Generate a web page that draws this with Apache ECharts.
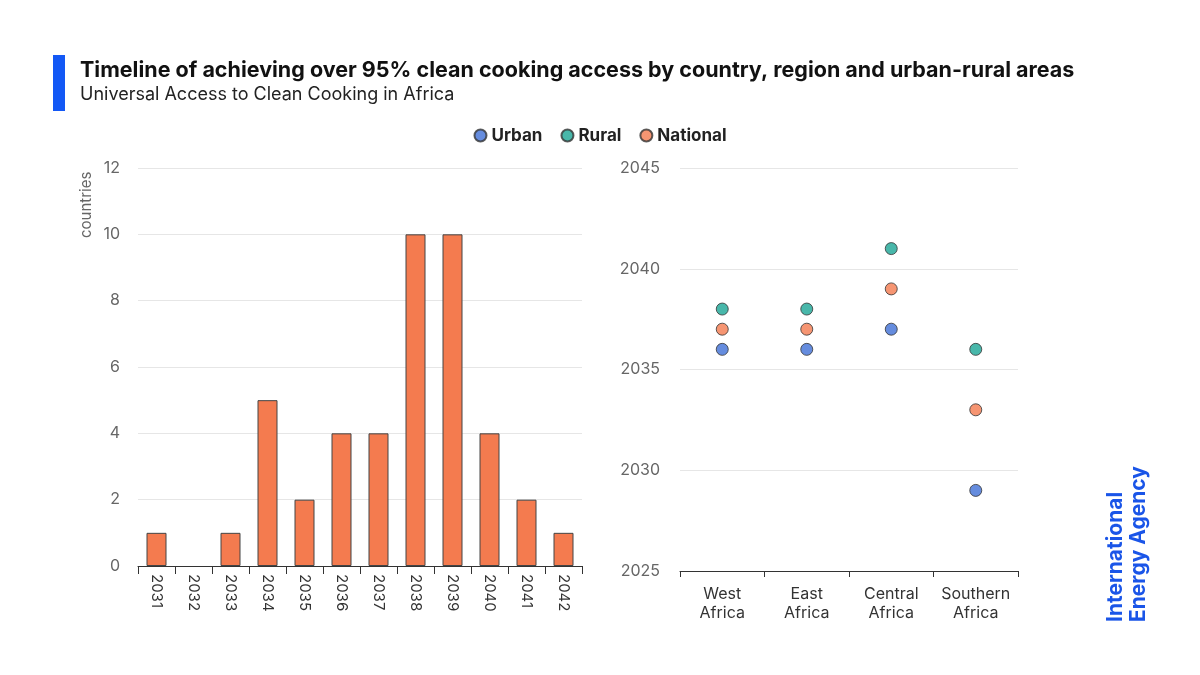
<!DOCTYPE html><html><head><meta charset="utf-8"><script src="https://cdn.jsdelivr.net/npm/echarts@6/dist/echarts.min.js"></script></head><body style="margin:0"><div id="c" style="width:1200px;height:675px"></div><script>
const years=['2031','2032','2033','2034','2035','2036','2037','2038','2039','2040','2041','2042'];
const counts=[1,0,1,5,2,4,4,10,10,4,2,1];
const regions=['West\nAfrica','East\nAfrica','Central\nAfrica','Southern\nAfrica'];
const urban=[2036,2036,2037,2029];
const rural=[2038,2038,2041,2036];
const national=[2037,2037,2039,2033];
const F='Inter, "Noto Sans", sans-serif';
const cU='#3f6fd6',cR='#1aa595',cN='#f47b4f';
const ch=echarts.init(document.getElementById('c'));
const sc=(n,d,c)=>({name:n,type:'scatter',xAxisIndex:1,yAxisIndex:1,data:d,symbolSize:12,itemStyle:{color:c,borderColor:'#333',borderWidth:1}});
ch.setOption({animation:false,textStyle:{fontFamily:F},
graphic:[{type:'rect',left:53,top:55,shape:{width:12,height:56},style:{fill:'#1358f5'}},
{type:'text',left:80,top:60,style:{text:'Timeline of achieving over 95% clean cooking access by country, region and urban-rural areas',font:'bold 21.5px '+F,fill:'#111'}},
{type:'text',left:80,top:86,style:{text:'Universal Access to Clean Cooking in Africa',font:'18px '+F,fill:'#222'}},
{type:'text',x:79,y:238,rotation:Math.PI/2,style:{text:'countries',font:'15px '+F,fill:'#666'}},
{type:'text',x:1104,y:622,rotation:Math.PI/2,style:{text:'International\nEnergy Agency',font:'bold 21px '+F,fill:'#1a55e8',lineHeight:23}}],
legend:{top:122,left:'center',itemWidth:12,itemHeight:12,itemGap:18,textStyle:{fontSize:17,fontWeight:'bold',color:'#222'},data:['Urban','Rural','National']},
grid:[{left:138,top:168,width:444,height:398},{left:680,top:168,width:338,height:403}],
xAxis:[{type:'category',data:years,gridIndex:0,axisLine:{lineStyle:{color:'#333'}},axisTick:{show:true,length:8,lineStyle:{color:'#333'}},axisLabel:{rotate:-90,fontSize:15,color:'#333',margin:8}},
{type:'category',data:regions,gridIndex:1,axisLine:{lineStyle:{color:'#333'}},axisTick:{show:true,length:6,lineStyle:{color:'#333'}},axisLabel:{interval:0,fontSize:16,color:'#333',lineHeight:19,margin:14}}],
yAxis:[{type:'value',gridIndex:0,min:0,max:12,interval:2,axisLabel:{fontSize:16,color:'#666',margin:18},splitLine:{lineStyle:{color:'#e6e6e6'}}},
{type:'value',gridIndex:1,min:2025,max:2045,interval:5,axisLabel:{fontSize:16,color:'#666',margin:20,formatter:v=>String(v)},splitLine:{lineStyle:{color:'#e6e6e6'}}}],
series:[{type:'bar',data:counts.map(v=>v===0?null:v),barWidth:20,itemStyle:{color:cN,borderColor:'#444',borderWidth:1}},sc('Urban',urban,cU),sc('Rural',rural,cR),sc('National',national,cN)]});
</script></body></html>
